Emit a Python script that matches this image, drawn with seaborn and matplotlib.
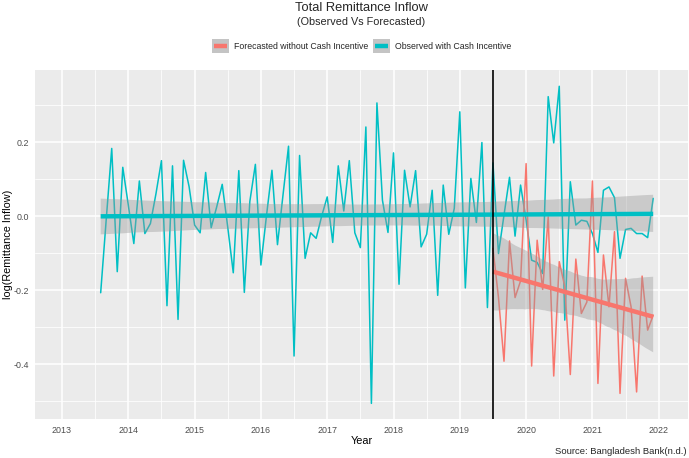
import numpy as np
import pandas as pd
import matplotlib
matplotlib.use("Agg")
import matplotlib.pyplot as plt
import seaborn as sns
from matplotlib.patches import Rectangle
from matplotlib.lines import Line2D
from matplotlib.legend_handler import HandlerBase
from matplotlib.ticker import MultipleLocator, FixedLocator, FixedFormatter

# ---------------- data ----------------
months_obs = pd.date_range("2013-08-01", "2021-12-01", freq="MS")
observed = [
    -0.207, -0.01, 0.183, -0.150, 0.132, 0.03, -0.074, 0.095, -0.047, -0.02,
    0.06, 0.150, -0.242, 0.136, -0.279, 0.151, 0.08, -0.024, -0.045, 0.118,
    -0.031, 0.025, 0.086, -0.03, -0.153, 0.123, -0.206, 0.04, 0.140, -0.132,
    0.0, 0.124, -0.077, 0.057, 0.189, -0.378, 0.164, -0.114, -0.045, -0.060,
    0.0, 0.052, -0.071, 0.136, 0.014, 0.150, -0.045, -0.085, 0.241, -0.506,
    0.306, 0.043, -0.044, 0.171, -0.184, 0.124, 0.025, 0.123, -0.083, -0.049,
    0.070, -0.214, 0.084, -0.049, 0.021, 0.282, -0.194, 0.102, -0.017, 0.199,
    -0.247, 0.144, -0.101, 0.003, 0.105, -0.054, 0.084, -0.01, -0.119, -0.125,
    -0.155, 0.323, 0.198, 0.351, -0.281, 0.093, -0.024, -0.011, -0.014, -0.047,
    -0.098, 0.070, 0.079, 0.050, -0.114, -0.036, -0.033, -0.047, -0.047, -0.058,
    0.048,
]
months_fc = pd.date_range("2019-07-01", "2021-12-01", freq="MS")
forecast = [
    -0.087, -0.22, -0.392, -0.067, -0.220, -0.175, 0.142, -0.405, -0.065, -0.198,
    -0.002, -0.432, -0.123, -0.19, -0.428, -0.116, -0.263, -0.232, 0.095, -0.452,
    -0.105, -0.245, -0.042, -0.479, -0.168, -0.245, -0.475, -0.162, -0.308, -0.268,
]
series_names = ["Forecasted without Cash Incentive", "Observed with Cash Incentive"]
x_ticks = [2013, 2014, 2015, 2016, 2017, 2018, 2019, 2020, 2021, 2022]
y_ticks = [-0.4, -0.2, 0.0, 0.2]
y_tick_labels = ["-0.4", "-0.2", "0.0", "0.2"]
incentive_start = 2019.5

RED = "#F8766D"
TEAL = "#00BFC4"
BAND = "#999999"
KEY_BG = "#C4C4C4"


def dec_year(idx):
    return np.array([d.year + (d.month - 1) / 12 for d in idx])


df_obs = pd.DataFrame({"year": dec_year(months_obs), "value": observed})
df_fc = pd.DataFrame({"year": dec_year(months_fc), "value": forecast})


class KeyHandler(HandlerBase):
    """ggplot-like key: grey square with a thick coloured line across it."""

    def create_artists(self, legend, orig_handle, xdescent, ydescent, width,
                       height, fontsize, trans):
        rect = Rectangle((-xdescent, -ydescent), width, height, facecolor=KEY_BG,
                         edgecolor="none", transform=trans)
        y = -ydescent + height / 2
        line = Line2D([-xdescent + 1.5, -xdescent + width - 1.5], [y, y],
                      color=orig_handle.get_color(), lw=3.2,
                      solid_capstyle="butt", transform=trans)
        return [rect, line]


# ---------------- style ----------------
sns.set_theme(style="darkgrid")
plt.rcParams["font.family"] = ["Liberation Sans", "DejaVu Sans"]
plt.rcParams["axes.unicode_minus"] = False

W, H = 689, 458
fig = plt.figure(figsize=(W / 100, H / 100), dpi=100)
left_px, right_px, top_px, bot_px = 35, 688, 70, 419.3
ax = fig.add_axes([left_px / W, 1 - bot_px / H, (right_px - left_px) / W,
                   (bot_px - top_px) / H])
ax.set_facecolor("#EBEBEB")

# data lines
sns.lineplot(data=df_obs, x="year", y="value", color=TEAL, lw=1.1, ax=ax, zorder=3)
sns.lineplot(data=df_fc, x="year", y="value", color=RED, lw=1.1, ax=ax, zorder=3)

# linear smooths with CI
for df, col in [(df_obs, TEAL), (df_fc, RED)]:
    n_before = len(ax.collections)
    sns.regplot(data=df, x="year", y="value", scatter=False, ci=95, color=col,
                line_kws={"lw": 3.2, "zorder": 5, "solid_capstyle": "butt"},
                truncate=True, seed=3, ax=ax)
    for coll in ax.collections[n_before:]:
        coll.set_alpha(None)
        coll.set_facecolor(matplotlib.colors.to_rgba(BAND, 0.4))
        coll.set_edgecolor("none")
        coll.set_zorder(4)

ax.axvline(incentive_start, color="black", lw=1.2, zorder=6)

ax.set_xlim(2014 + (left_px - 128.3) / 66.3, 2014 + (right_px - 128.3) / 66.3)
ax.set_ylim(-0.549, 0.395)

ax.xaxis.set_major_locator(FixedLocator(x_ticks))
ax.xaxis.set_major_formatter(FixedFormatter([str(t) for t in x_ticks]))
ax.xaxis.set_minor_locator(MultipleLocator(0.5))
ax.yaxis.set_major_locator(FixedLocator(y_ticks))
ax.yaxis.set_major_formatter(FixedFormatter(y_tick_labels))
ax.yaxis.set_minor_locator(FixedLocator([-0.5, -0.3, -0.1, 0.1, 0.3]))

ax.grid(which="major", color="white", lw=1.1)
ax.grid(which="minor", color="white", lw=0.55)
ax.set_axisbelow(True)
for s in ax.spines.values():
    s.set_visible(False)

ax.tick_params(which="major", length=2.5, width=0.8, color="#333333",
               labelsize=6.4, labelcolor="#4D4D4D", pad=2)
ax.tick_params(which="minor", length=0)

ax.set_xlabel("Year", fontsize=7.8, color="black", labelpad=1)
ax.set_ylabel("log(Remittance Inflow)", fontsize=7.8, color="black")
ax.yaxis.label.set_va("center")
ax.yaxis.set_label_coords((8 - left_px) / (right_px - left_px), 0.5)

cx = (left_px + right_px) / 2 / W
fig.text(cx, 1 - 8 / H, "Total Remittance Inflow", ha="center", va="center",
         fontsize=9.3)
fig.text(cx, 1 - 22 / H, "(Observed Vs Forecasted)", ha="center", va="center",
         fontsize=7.8)
fig.text(687 / W, 1 - 451 / H, "Source: Bangladesh Bank(n.d.)", ha="right",
         va="center", fontsize=6.8)

handles = [Line2D([], [], color=RED), Line2D([], [], color=TEAL)]
fig.legend(handles, series_names, loc="center", bbox_to_anchor=(cx, 1 - 46 / H),
           ncol=2, frameon=False, fontsize=6.3,
           handler_map={Line2D: KeyHandler()},
           handlelength=1.95, handleheight=1.95, columnspacing=0.5,
           handletextpad=0.6)

fig.savefig("out.png", dpi=100)
